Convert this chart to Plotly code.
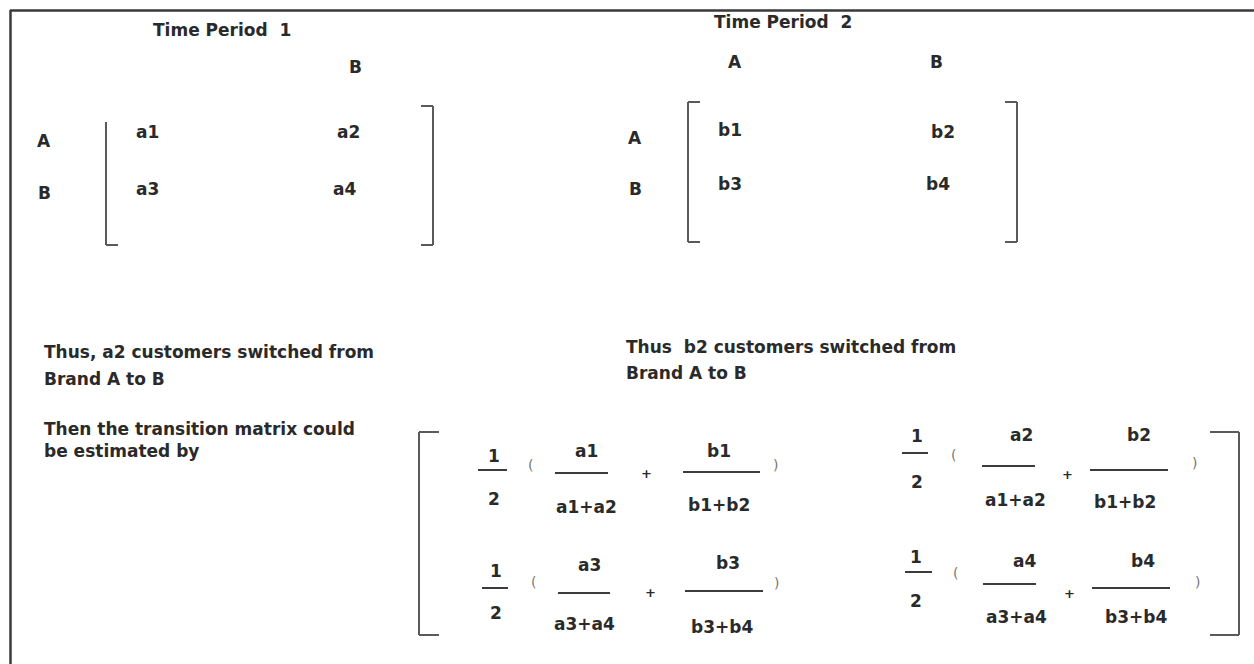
import plotly.graph_objects as go

# ---------------- data (text content of the diagram) ----------------
period_titles = ["Time Period  1", "Time Period  2"]
p1_col_labels = ["", "B"]
p2_col_labels = ["A", "B"]
row_labels = ["A", "B"]
p1_cells = [["a1", "a2"], ["a3", "a4"]]
p2_cells = [["b1", "b2"], ["b3", "b4"]]
note_p1 = ["Thus, a2 customers switched from", "Brand A to B"]
note_p2 = ["Thus  b2 customers switched from", "Brand A to B"]
intro_text = ["Then the transition matrix could", "be estimated by"]
half_num, half_den = "1", "2"
est_numer_a = [["a1", "a2"], ["a3", "a4"]]
est_denom_a = [["a1+a2", "a1+a2"], ["a3+a4", "a3+a4"]]
est_numer_b = [["b1", "b2"], ["b3", "b4"]]
est_denom_b = [["b1+b2", "b1+b2"], ["b3+b4", "b3+b4"]]

# ---------------- styling ----------------
W, H = 1254, 664
FONT = "DejaVu Sans"
TXT = "#2a2a2a"
LINE = "#3c3c3c"
BRK = "#5a5a5a"
FS = 17

fig = go.Figure()
annotations = []
shapes = []


def txt(x, y, s, size=FS, anchor="center", color=TXT, bold=True):
    annotations.append(dict(x=x, y=y, xref="x", yref="y",
                            text=("<b>%s</b>" % s) if bold else s, showarrow=False,
                            xanchor=anchor, yanchor="middle",
                            font=dict(family=FONT, size=size, color=color)))


def line(x0, y0, x1, y1, w=2, color=LINE):
    shapes.append(dict(type="line", xref="x", yref="y", x0=x0, y0=y0, x1=x1, y1=y1,
                       line=dict(color=color, width=w)))


# frame
line(10, 10.5, W, 10.5, 2.5, "#3a3a3a")
line(10.5, 10, 10.5, H, 2.5, "#3a3a3a")

# ---------- Time period 1 ----------
txt(222, 30, period_titles[0])
p1_col_x = [147, 355]
for cx, lab in zip(p1_col_x, p1_col_labels):
    if lab:
        txt(cx, 67, lab)
p1_row_y = [141, 193]
for ry, lab in zip(p1_row_y, row_labels):
    txt(44, ry, lab)
p1_cell_x = [147, 348]
p1_cell_y = [132, 189]
for i in range(2):
    for j in range(2):
        txt(p1_cell_x[j] - (4 if (i, j) == (1, 1) else 0), p1_cell_y[i], p1_cells[i][j])
# brackets
line(106, 122, 106, 245, 2, BRK)
line(106, 245, 118, 245, 2, BRK)
line(433, 106, 433, 245, 2, BRK)
line(421, 106, 433, 106, 2, BRK)
line(421, 245, 433, 245, 2, BRK)

# ---------- Time period 2 ----------
txt(783, 22, period_titles[1])
p2_col_x = [735, 936]
for cx, lab in zip(p2_col_x, p2_col_labels):
    txt(cx, 62, lab)
p2_row_y = [138, 189]
for ry, lab in zip(p2_row_y, row_labels):
    txt(635, ry, lab)
p2_cell_x = [730, 943]
p2_cell_y = [130, 184]
for i in range(2):
    for j in range(2):
        txt(p2_cell_x[j] - (5 if (i, j) == (1, 1) else 0),
            p2_cell_y[i] + (2 if (i, j) == (0, 1) else 0), p2_cells[i][j])
line(688, 102, 688, 242, 2, BRK)
line(688, 102, 700, 102, 2, BRK)
line(688, 242, 700, 242, 2, BRK)
line(1017, 102, 1017, 242, 2, BRK)
line(1005, 102, 1017, 102, 2, BRK)
line(1005, 242, 1017, 242, 2, BRK)

# ---------- notes ----------
txt(42, 352, note_p1[0], anchor="left")
txt(42, 379, note_p1[1], anchor="left")
txt(624, 347, note_p2[0], anchor="left")
txt(624, 373, note_p2[1], anchor="left")
txt(42, 429, intro_text[0], anchor="left")
txt(42, 451, intro_text[1], anchor="left")

# ---------- estimate matrix ----------
line(419, 432, 419, 635, 2, BRK)
line(419, 432, 439, 432, 2, BRK)
line(419, 635, 439, 635, 2, BRK)
line(1239, 432, 1239, 635, 2, BRK)
line(1210, 432, 1239, 432, 2, BRK)
line(1210, 635, 1239, 635, 2, BRK)

cells = {
    (0, 0): dict(hx=494, hn=456, hb=470, hd=499, hb0=478, hb1=507, pl=(530, 465),
                 ax=586, an=451, ab=473, ad=507, ab0=555, ab1=608, plus=(646, 473),
                 bx=719, bn=451, bb=472, bd=505, bb0=683, bb1=760, pr=(775, 465)),
    (1, 0): dict(hx=496, hn=571, hb=588, hd=613, hb0=482, hb1=508, pl=(533, 582),
                 ax=584, an=565, ab=593, ad=624, ab0=558, ab1=610, plus=(650, 592),
                 bx=722, bn=563, bb=591, bd=627, bb0=685, bb1=763, pr=(776, 583)),
    (0, 1): dict(hx=917, hn=436, hb=453, hd=482, hb0=902, hb1=928, pl=(953, 455),
                 ax=1015, an=435, ab=466, ad=500, ab0=982, ab1=1035, plus=(1067, 474),
                 bx=1125, bn=435, bb=470, bd=502, bb0=1090, bb1=1168, pr=(1194, 463)),
    (1, 1): dict(hx=916, hn=557, hb=572, hd=601, hb0=905, hb1=932, pl=(955, 573),
                 ax=1016, an=561, ab=584, ad=617, ab0=983, ab1=1036, plus=(1069, 593),
                 bx=1136, bn=561, bb=588, bd=617, bb0=1092, bb1=1170, pr=(1197, 582)),
}
num_shift = {(0, 0): (0, 0), (1, 0): (5, 6), (0, 1): (6, 14), (1, 1): (8, 7)}
for (i, j), c in cells.items():
    sa, sb = num_shift[(i, j)]
    txt(c["hx"], c["hn"], half_num)
    line(c["hb0"], c["hb"], c["hb1"], c["hb"])
    txt(c["hx"], c["hd"], half_den)
    txt(c["pl"][0], c["pl"][1], "(", size=14, color="#777777", bold=False)
    txt(c["ax"] + sa, c["an"], est_numer_a[i][j])
    line(c["ab0"], c["ab"], c["ab1"], c["ab"])
    txt(c["ax"], c["ad"], est_denom_a[i][j])
    txt(c["plus"][0], c["plus"][1], "+", size=13)
    txt(c["bx"] + sb, c["bn"], est_numer_b[i][j])
    line(c["bb0"], c["bb"], c["bb1"], c["bb"])
    txt(c["bx"], c["bd"], est_denom_b[i][j])
    txt(c["pr"][0], c["pr"][1], ")", size=14, color="#777777", bold=False)

fig.update_layout(
    width=W, height=H, margin=dict(l=0, r=0, t=0, b=0),
    paper_bgcolor="white", plot_bgcolor="white",
    xaxis=dict(range=[0, W], visible=False, fixedrange=True),
    yaxis=dict(range=[H, 0], visible=False, fixedrange=True),
    annotations=annotations, shapes=shapes, showlegend=False,
)
fig.write_html("out.html", config={"displayModeBar": False},
               post_script="document.body.style.margin='0';document.body.style.overflow='hidden';")
